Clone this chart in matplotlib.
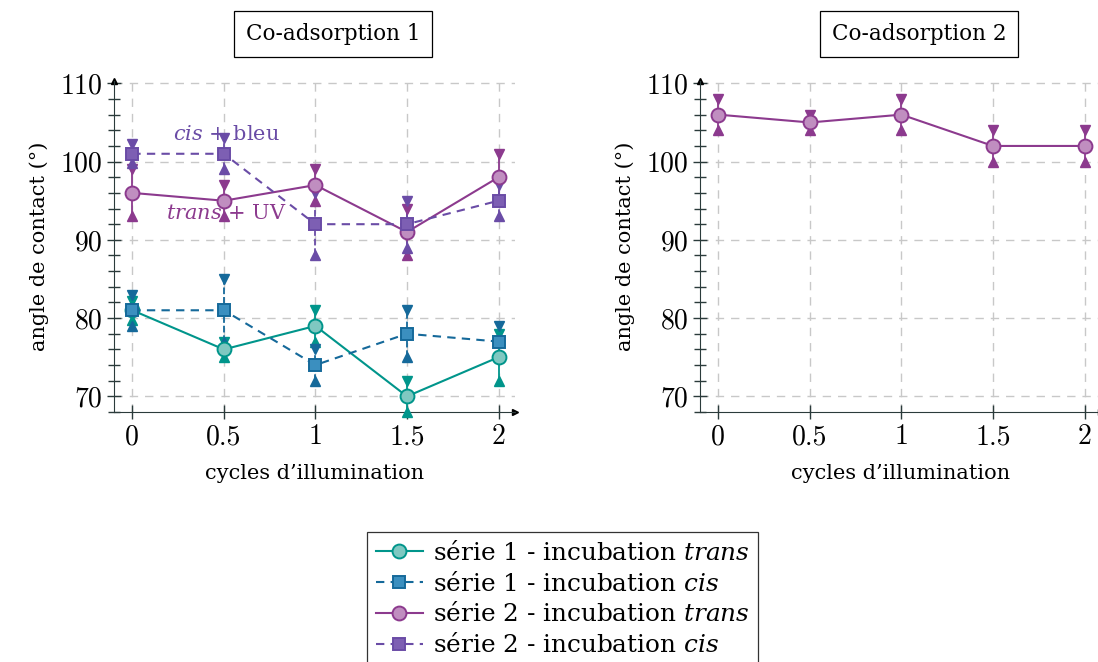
import numpy as np
import matplotlib.pyplot as plt
from matplotlib.ticker import MultipleLocator, FuncFormatter

plt.rcParams['font.family'] = 'DejaVu Serif'
plt.rcParams['mathtext.fontset'] = 'custom'
plt.rcParams['mathtext.rm'] = 'DejaVu Serif'
plt.rcParams['mathtext.it'] = 'DejaVu Serif:italic'

# data
cycles = [0, 0.5, 1, 1.5, 2]

s1_trans = [81, 76, 79, 70, 75]
s1_trans_err = [1.2, 1, 2, 2, 3]
s1_cis = [81, 81, 74, 78, 77]
s1_cis_err = [2, 4, 2, 3, 2]
s2_trans = [96, 95, 97, 91, 98]
s2_trans_err = [3, 2, 2, 3, 3]
s2_cis = [101, 101, 92, 92, 95]
s2_cis_err = [1.2, 2, 4, 3, 2]

co2_trans = [106, 105, 106, 102, 102]
co2_trans_err = [2, 1, 2, 2, 2]

teal = '#00958b'
teal_fill = '#7fc8c1'
blue = '#15699a'
blue_fill = '#3b8fbf'
purple = '#8c3a8e'
purple_fill = '#c08ec0'
violet = '#6a4ca6'
violet_fill = '#7d5fb3'
axcol = '#2b3b3b'


def draw_series(ax, y, err, col, fill, marker, ls, label):
    y = np.array(y)
    err = np.array(err)
    ax.vlines(cycles, y - err, y + err, color=col, lw=1.3, linestyles=ls, zorder=2)
    ax.plot(cycles, y + err, 'v', color=col, ms=6.5, zorder=3, clip_on=False)
    ax.plot(cycles, y - err, '^', color=col, ms=6.5, zorder=3, clip_on=False)
    ms = 10 if marker == 'o' else 8.5
    line, = ax.plot(cycles, y, ls=ls, marker=marker, color=col, mfc=fill, mec=col,
                    mew=1.4, ms=ms, lw=1.5, label=label, zorder=4, clip_on=False,
                    dashes=(4, 3) if ls == '--' else (None, None))
    return line


def style_axis(ax):
    ax.set_xlim(-0.1, 2.09)
    ax.set_ylim(68, 110.3)
    for s in ['top', 'right']:
        ax.spines[s].set_visible(False)
    ax.spines['left'].set_color(axcol)
    ax.spines['bottom'].set_color(axcol)
    ax.xaxis.set_major_locator(MultipleLocator(0.5))
    ax.yaxis.set_minor_locator(MultipleLocator(2))
    ax.set_yticks([70, 80, 90, 100, 110])
    ax.tick_params(axis='both', which='major', direction='inout', length=10,
                   color=axcol, labelsize=20, width=1)
    ax.tick_params(axis='y', which='minor', direction='inout', length=8,
                   color=axcol, width=1)
    ax.xaxis.set_major_formatter(FuncFormatter(lambda v, p: f'{v:g}'))
    for lab in ax.get_xticklabels() + ax.get_yticklabels():
        lab.set_fontfamily('cmr10')
    ax.grid(True, which='major', color='#c8c8c8', ls=(0, (6, 5)), lw=1)
    ax.set_axisbelow(True)
    ax.plot(1, 0, '>', color='black', ms=5, transform=ax.transAxes, clip_on=False)
    ax.plot(0, 1, '^', color='black', ms=5, transform=ax.transAxes, clip_on=False)
    ax.set_xlabel('cycles d’illumination', fontsize=15, labelpad=10)
    ax.set_ylabel('angle de contact (°)', fontsize=15, labelpad=8)


fig = plt.figure(figsize=(10.98, 6.62), dpi=100)
ax1 = fig.add_axes([114 / 1098, 1 - 412 / 662, 401 / 1098, 331 / 662])
ax2 = fig.add_axes([700 / 1098, 1 - 412 / 662, 401 / 1098, 331 / 662])

h1 = draw_series(ax1, s1_trans, s1_trans_err, teal, teal_fill, 'o', '-',
                 r'série 1 - incubation $\mathit{trans}$')
h2 = draw_series(ax1, s1_cis, s1_cis_err, blue, blue_fill, 's', '--',
                 r'série 1 - incubation $\mathit{cis}$')
h3 = draw_series(ax1, s2_trans, s2_trans_err, purple, purple_fill, 'o', '-',
                 r'série 2 - incubation $\mathit{trans}$')
h4 = draw_series(ax1, s2_cis, s2_cis_err, violet, violet_fill, 's', '--',
                 r'série 2 - incubation $\mathit{cis}$')
draw_series(ax2, co2_trans, co2_trans_err, purple, purple_fill, 'o', '-', None)

ax1.text(0.22, 103.4, r'$\mathit{cis}$ + bleu', color=violet, fontsize=15,
         ha='left', va='center', zorder=1)
ax1.text(0.185, 93.4, r'$\mathit{trans}$ + UV', color=purple, fontsize=15,
         ha='left', va='center', zorder=1)

style_axis(ax1)
style_axis(ax2)

box = dict(boxstyle='square,pad=0.55', fc='white', ec='black', lw=0.9)
fig.text(333 / 1098, 1 - 34 / 662, 'Co-adsorption 1', fontsize=15.5, ha='center',
         va='center', bbox=box)
fig.text(919 / 1098, 1 - 34 / 662, 'Co-adsorption 2', fontsize=15.5, ha='center',
         va='center', bbox=box)

leg = fig.legend(handles=[h1, h2, h3, h4], loc='upper left',
                 bbox_to_anchor=(367 / 1098, 1 - 532 / 662), fontsize=17.8,
                 frameon=True, fancybox=False, edgecolor='black',
                 handlelength=1.9, handletextpad=0.4, labelspacing=0.28,
                 borderpad=0.35, borderaxespad=0)
leg.get_frame().set_linewidth(0.9)

fig.savefig('out.png', dpi=100)
